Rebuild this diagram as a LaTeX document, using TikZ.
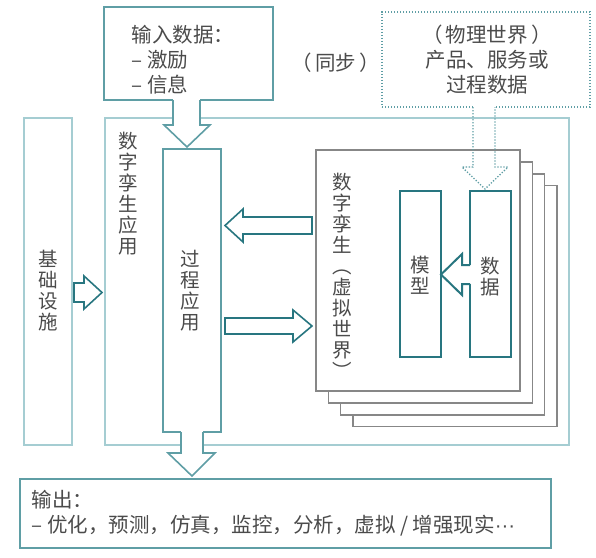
\documentclass[tikz,border=0pt]{standalone}
\usepackage{fontspec}
\setmainfont{Noto Sans CJK SC}
\newfontfamily\dotfont{Liberation Sans}
\definecolor{tealdark}{RGB}{40,118,128}
\definecolor{tealbox}{RGB}{95,158,165}
\definecolor{teallight}{RGB}{165,205,210}
\definecolor{pagegray}{RGB}{135,135,135}
\definecolor{textgray}{RGB}{75,75,75}

\begin{document}
\begin{tikzpicture}[x=1pt, y=-1pt,
	box/.style={draw=tealbox, line width=1.4pt, fill=white, inner sep=0pt},
	frame/.style={draw=teallight, line width=1.2pt, inner sep=0pt},
	sheet/.style={draw=pagegray, line width=1.4pt, fill=white, inner sep=0pt, minimum width=204pt, minimum height=241pt},
	part/.style={draw=tealdark, line width=2pt, fill=white, inner sep=0pt, minimum width=41pt, minimum height=166pt},
	blockarrow/.style={draw=tealdark, line width=1.6pt, fill=white, line join=miter},
	dots/.style={draw=tealbox, line width=1.3pt, dash pattern=on 1.3pt off 1.7pt},
	txt/.style={text=textgray, font=\fontsize{20.5}{25}\selectfont, align=left},
	vtxt/.style={text=textgray, font=\fontsize{19.5}{21}\selectfont, align=center, inner sep=0pt}]
	\useasboundingbox (0,0) rectangle (596,557);
	
	% frames
	\node[frame, minimum width=48pt, minimum height=327pt] (infra) at (48,281.5) {};
	\node[frame, minimum width=464pt, minimum height=327pt] (app) at (337,281.5) {};
	
	\node[box, minimum width=169pt, minimum height=93pt] (input) at (188.5,53.5) {};
	\node[box, minimum width=531pt, minimum height=69pt] (output) at (285.5,513.5) {};
	\node[box, minimum width=58pt, minimum height=283pt] (proc) at (192,290.5) {};
	
	% twin sheets
	\foreach \i in {3,2,1}
		\node[sheet] (sheet-\i) at (418+12.3*\i, 270.5+11.9*\i) {};
	\node[sheet] (twin) at (418,270.5) {};
	
	\node[part] (model) at (420.5,274) {};
	\node[part] (data) at (490.5,274) {};
	
	\node[dots, inner sep=0pt, minimum width=208pt, minimum height=95pt] (phys) at (486,59.5) {};
	
	% texts
	\node[txt, anchor=west] (input-text) at (128,59.5) {输入数据：\\– 激励\\– 信息};
	\node[txt] (sync) at (336,63) {（\,同步\,）};
	\node[txt, align=center] (phys-text) at (487,59.5) {（\,物理世界\,）\\产品、服务或\\过程数据};
	\node[txt, anchor=west] (output-text) at (28,513) {输出：\\– 优化，预测，仿真，监控，分析，虚拟 / 增强现实{\dotfont ···}};
	
	\node[vtxt] (infra-text) at (48,291) {基\\础\\设\\施};
	\node[vtxt] (app-text) at (128,194) {数\\字\\孪\\生\\应\\用};
	\node[vtxt] (proc-text) at (190,291) {过\\程\\应\\用};
	\node[vtxt] (twin-text) at (342,276) {数\\字\\孪\\生\\︵\\虚\\拟\\世\\界\\︶};
	\node[vtxt] (model-text) at (420,275) {模\\型};
	\node[vtxt] (data-text) at (490,277) {数\\据};
	
	% input to process
	\fill[white] (173,97) rectangle (200,126);
	\draw[blockarrow, draw=tealbox] (173,100) -- (173,125) -- (164,125) -- (187,147) -- (210,125) -- (200,125) -- (200,100);
	
	% process to output
	\fill[white] (181,429) rectangle (203,454);
	\draw[blockarrow, draw=tealbox] (181,432) -- (181,453) -- (168,453) -- (192,476) -- (215,453) -- (203,453) -- (203,432);
	
	% infra to app
	\draw[blockarrow] (74,283) -- (84,283) -- (84,276) -- (102,292.5) -- (84,309) -- (84,302) -- (74,302) -- cycle;
	
	% twin <-> process
	\draw[blockarrow] (312,217) -- (243,217) -- (243,209) -- (225,225.5) -- (243,242) -- (243,234) -- (312,234) -- cycle;
	\draw[blockarrow] (225,318) -- (293,318) -- (293,310) -- (312,326) -- (293,342) -- (293,334) -- (225,334) -- cycle;
	
	% data to model
	\fill[white] (461,265) rectangle (473,284);
	\draw[blockarrow, line width=2pt] (470,265) -- (462,265) -- (462,254) -- (441,274.5) -- (462,295) -- (462,284) -- (470,284);
	
	% physical world to data
	\fill[white] (474,104) rectangle (494,110);
	\draw[dots] (473,107) -- (473,167) -- (462,167) -- (485,189) -- (508,167) -- (495,167) -- (495,107);
\end{tikzpicture}
\end{document}
